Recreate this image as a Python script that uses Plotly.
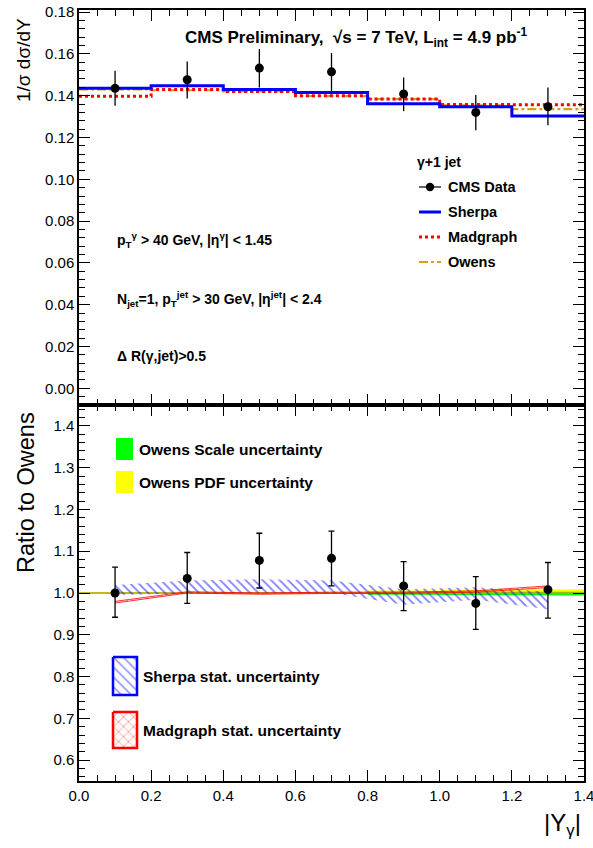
import plotly.graph_objects as go

# ---------------- data ----------------
bin_edges = [0.0, 0.2, 0.4, 0.6, 0.8, 1.0, 1.2, 1.4]
bin_centers = [0.1, 0.3, 0.5, 0.7, 0.9, 1.1, 1.3]

data_val = [0.1435, 0.1476, 0.1532, 0.1514, 0.1408, 0.1320, 0.1347]
data_err_up = [0.0084, 0.0088, 0.0091, 0.0090, 0.0079, 0.0083, 0.0092]
data_err_dn = [0.0083, 0.0089, 0.0093, 0.0091, 0.0082, 0.0085, 0.0088]

sherpa = [0.1435, 0.1448, 0.1430, 0.1415, 0.1362, 0.1347, 0.1303]
madgraph = [0.1397, 0.1430, 0.1420, 0.1400, 0.1384, 0.1358, 0.1357]
owens = [0.1430, 0.1426, 0.1421, 0.1398, 0.1384, 0.1354, 0.1336]

ratio_data = [1.000, 1.035, 1.078, 1.083, 1.017, 0.975, 1.008]
ratio_err_up = [0.062, 0.062, 0.065, 0.065, 0.058, 0.064, 0.065]
ratio_err_dn = [0.058, 0.060, 0.066, 0.066, 0.059, 0.062, 0.068]

sherpa_ratio_lo = [0.995, 0.999, 1.000, 1.000, 0.972, 0.984, 0.961]
sherpa_ratio_hi = [1.019, 1.030, 1.033, 1.030, 1.009, 1.014, 1.003]

madgraph_ratio_lo = [0.976, 1.000, 0.997, 0.999, 0.999, 1.002, 1.013]
madgraph_ratio_hi = [0.980, 1.003, 1.000, 1.002, 1.002, 1.005, 1.017]

owens_scale_lo = [0.999, 0.999, 0.999, 0.999, 0.996, 0.995, 0.994]
owens_scale_hi = [1.001, 1.001, 1.001, 1.001, 1.003, 1.003, 1.003]
owens_pdf_lo = [0.999, 0.999, 0.999, 0.999, 0.997, 0.996, 0.995]
owens_pdf_hi = [1.001, 1.001, 1.002, 1.002, 1.006, 1.008, 1.009]

x_ticks = [0.0, 0.2, 0.4, 0.6, 0.8, 1.0, 1.2, 1.4]

# ---------------- geometry / style ----------------
W_FIG, H_FIG = 593, 848
L, R, T, B = 79, 584, 10, 781          # window pixel positions of the frame
SPLIT = 405
W, H = R - L, B - T
yb = (B - SPLIT) / H
TOP_RANGE = [-0.008, 0.181]
BOT_RANGE = [0.55, 1.45]
X_RANGE = [0.0, 1.4]
FONT = "Liberation Sans"
BLUE = "#0000ff"
RED = "#ff0000"
GOLD = "#d4a017"


def P(xp, yp):
    return (xp - L) / W, (B - yp) / H


def D2(xp, yp):
    # window pixel -> bottom-panel data coordinates
    x = X_RANGE[0] + (xp - L) / W * (X_RANGE[1] - X_RANGE[0])
    y = BOT_RANGE[1] - (yp - SPLIT) / (B - SPLIT) * (BOT_RANGE[1] - BOT_RANGE[0])
    return x, y


def step(vals):
    return list(bin_edges), list(vals) + [vals[-1]]


fig = go.Figure()

# ---------- top panel ----------
for vals, color, dash, width in [(owens, GOLD, "dashdot", 2.2),
                                  (madgraph, RED, "dot", 3),
                                  (sherpa, BLUE, "solid", 3)]:
    xs, ys = step(vals)
    fig.add_trace(go.Scatter(x=xs, y=ys, mode="lines", line_shape="hv",
                             line=dict(color=color, dash=dash, width=width),
                             xaxis="x", yaxis="y", showlegend=False, hoverinfo="skip"))

fig.add_trace(go.Scatter(x=bin_centers, y=data_val, mode="markers",
                         marker=dict(color="black", size=9),
                         error_y=dict(type="data", array=data_err_up, arrayminus=data_err_dn,
                                      color="black", thickness=1.3, width=0),
                         xaxis="x", yaxis="y", showlegend=False))


# ---------- bottom panel ----------
def band_step(lo, hi):
    px, py = [], []
    for i in range(len(lo)):
        px += [bin_edges[i], bin_edges[i + 1]]
        py += [hi[i], hi[i]]
    for i in reversed(range(len(lo))):
        px += [bin_edges[i + 1], bin_edges[i]]
        py += [lo[i], lo[i]]
    return px, py


px_, py_ = band_step(owens_pdf_lo, owens_pdf_hi)
fig.add_trace(go.Scatter(x=px_, y=py_, fill="toself", fillcolor="#ffff00", mode="lines",
                         line=dict(width=0, color="#ffff00"), xaxis="x2", yaxis="y2",
                         showlegend=False, hoverinfo="skip"))
px_, py_ = band_step(owens_scale_lo, owens_scale_hi)
fig.add_trace(go.Scatter(x=px_, y=py_, fill="toself", fillcolor="#00ff00", mode="lines",
                         line=dict(width=0, color="#00ff00"), xaxis="x2", yaxis="y2",
                         showlegend=False, hoverinfo="skip"))

owens_ratio = [o / o for o in owens]
xs, ys = step(owens_ratio)
fig.add_trace(go.Scatter(x=xs, y=ys, mode="lines", line_shape="hv",
                         line=dict(color=GOLD, width=1.5), xaxis="x2", yaxis="y2",
                         showlegend=False, hoverinfo="skip"))

# Sherpa band
fig.add_trace(go.Scatter(x=bin_centers + bin_centers[::-1],
                         y=sherpa_ratio_hi + sherpa_ratio_lo[::-1],
                         fill="toself", fillcolor="rgba(0,0,0,0)", mode="lines",
                         line=dict(width=0, color=BLUE),
                         fillpattern=dict(shape="\\", fgcolor=BLUE, bgcolor="rgba(0,0,0,0)",
                                          size=6, solidity=0.3),
                         xaxis="x2", yaxis="y2", showlegend=False, hoverinfo="skip"))
# Madgraph band
fig.add_trace(go.Scatter(x=bin_centers + bin_centers[::-1],
                         y=madgraph_ratio_hi + madgraph_ratio_lo[::-1],
                         fill="toself", fillcolor="rgba(0,0,0,0)", mode="lines",
                         line=dict(width=0.8, color=RED),
                         fillpattern=dict(shape="x", fgcolor=RED, bgcolor="rgba(0,0,0,0)",
                                          size=4, solidity=0.3),
                         xaxis="x2", yaxis="y2", showlegend=False, hoverinfo="skip"))

fig.add_trace(go.Scatter(x=bin_centers, y=ratio_data, mode="markers",
                         marker=dict(color="black", size=9),
                         error_y=dict(type="data", array=ratio_err_up, arrayminus=ratio_err_dn,
                                      color="black", thickness=1.3, width=3),
                         xaxis="x2", yaxis="y2", showlegend=False))

# legend icons (hatched boxes) in bottom panel
for (y0p, y1p, color, shape) in [(657, 695, BLUE, "\\"), (712, 748, RED, "x")]:
    x0, y0 = D2(113, y0p)
    x1, y1 = D2(137, y1p)
    fig.add_trace(go.Scatter(x=[x0, x1, x1, x0, x0], y=[y0, y0, y1, y1, y0],
                             fill="toself", fillcolor="rgba(0,0,0,0)", mode="lines",
                             line=dict(width=2.5, color=color),
                             fillpattern=dict(shape=shape, fgcolor=color,
                                              bgcolor="rgba(0,0,0,0)", size=7, solidity=0.2),
                             xaxis="x2", yaxis="y2", showlegend=False, hoverinfo="skip"))

# ---------- axes ----------
common = dict(showline=True, linecolor="black", linewidth=1.5, mirror="allticks",
              ticks="inside", ticklen=11, tickwidth=1, tickcolor="black",
              showgrid=False, zeroline=False, automargin=False,
              ticklabeloverflow="allow",
              tickfont=dict(family=FONT, size=15, color="black"))

shapes = []
annotations = []


def ann(xp, yp, text, size, anchor="left", **kw):
    x, y = P(xp, yp)
    annotations.append(dict(x=x, y=y, xref="paper", yref="paper", text=text,
                            showarrow=False, xanchor=anchor, yanchor="middle",
                            font=dict(family=FONT, size=size, color="black"), **kw))


def pline(x0p, x1p, yp, color, dash, width):
    x0, y = P(x0p, yp)
    x1, _ = P(x1p, yp)
    shapes.append(dict(type="line", xref="paper", yref="paper", x0=x0, x1=x1, y0=y, y1=y,
                       line=dict(color=color, dash=dash, width=width)))


def prect(x0p, y0p, x1p, y1p, color):
    x0, y0 = P(x0p, y0p)
    x1, y1 = P(x1p, y1p)
    shapes.append(dict(type="rect", xref="paper", yref="paper", x0=x0, x1=x1, y0=y0, y1=y1,
                       fillcolor=color, line=dict(width=0)))


ann(183, 38, "<b>CMS Preliminary,  √s = 7 TeV, L<sub>int</sub> = 4.9 pb<sup>-1</sup></b>", 17)
ann(115, 240, "<b>p<sub>T</sub><sup>γ</sup> > 40 GeV, |η<sup>γ</sup>| < 1.45</b>", 14)
ann(115, 299, "<b>N<sub>jet</sub>=1, p<sub>T</sub><sup>jet</sup> > 30 GeV, |η<sup>jet</sup>| < 2.4</b>", 14)
ann(115, 356, "<b>Δ R(γ,jet)>0.5</b>", 14)

ann(415, 162, "<b>γ+1 jet</b>", 14)
ann(446, 187, "<b>CMS Data</b>", 14.5)
ann(446, 212, "<b>Sherpa</b>", 14.5)
ann(446, 237, "<b>Madgraph</b>", 14.5)
ann(446, 262, "<b>Owens</b>", 14.5)

pline(419, 441, 187, "black", "solid", 1.2)
cx, cy = P(430, 187)
r = 4.2
shapes.append(dict(type="circle", xref="paper", yref="paper",
                   x0=cx - r / W, x1=cx + r / W, y0=cy - r / H, y1=cy + r / H,
                   fillcolor="black", line=dict(width=0)))
pline(419, 441, 212, BLUE, "solid", 3)
pline(419, 441, 237, RED, "dot", 3)
pline(419, 441, 262, GOLD, "dashdot", 2.2)

prect(116, 438, 133, 460, "#00ff00")
prect(116, 471, 133, 493, "#ffff00")
ann(137, 449, "<b>Owens Scale uncertainty</b>", 15.5)
ann(137, 482, "<b>Owens PDF uncertainty</b>", 15.5)
ann(141, 676, "<b>Sherpa stat. uncertainty</b>", 15.5)
ann(141, 730, "<b>Madgraph stat. uncertainty</b>", 15.5)

ann(24, 60, "1/σ dσ/dY", 19, anchor="center", textangle=-90)
ann(26, 493, "Ratio to Owens", 23.5, anchor="center", textangle=-90)
ann(562, 824, "|Y<sub>γ</sub>|", 24, anchor="center")

fig.update_layout(
    width=W_FIG, height=H_FIG,
    margin=dict(l=L, r=W_FIG - R, t=T, b=H_FIG - B, autoexpand=False),
    paper_bgcolor="white", plot_bgcolor="white",
    showlegend=False,
    xaxis=dict(common, domain=[0, 1], anchor="y", range=X_RANGE, showticklabels=False,
               tickvals=x_ticks, minor=dict(dtick=0.05, ticklen=6, ticks="inside", tickcolor="black")),
    yaxis=dict(common, domain=[yb, 1], anchor="x", range=TOP_RANGE, dtick=0.02, tick0=0,
               tickformat=".2f",
               minor=dict(dtick=0.004, tick0=0, ticklen=6, ticks="inside", tickcolor="black")),
    xaxis2=dict(common, domain=[0, 1], anchor="y2", range=X_RANGE, tickvals=x_ticks,
                ticktext=[f"{v:.1f}" for v in x_ticks],
                minor=dict(dtick=0.05, ticklen=6, ticks="inside", tickcolor="black")),
    yaxis2=dict(common, domain=[0, yb], anchor="x2", range=BOT_RANGE, dtick=0.1, tick0=0.6,
                tickformat=".1f",
                minor=dict(dtick=0.02, tick0=0.6, ticklen=6, ticks="inside", tickcolor="black")),
    shapes=shapes,
    annotations=annotations,
)

# remove the browser's default 8px page margin so the figure fills the window exactly
fig.write_html("out.html", config={"displayModeBar": False},
               post_script="document.body.style.margin='0px';")
